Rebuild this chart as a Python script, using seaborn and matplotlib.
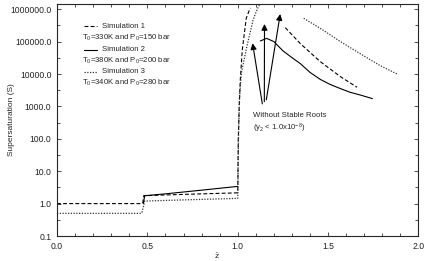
import numpy as np
import pandas as pd
import matplotlib
matplotlib.use("Agg")
import matplotlib.pyplot as plt
import matplotlib.ticker as mticker
import seaborn as sns

# ---- data (x = z, y = supersaturation S) ----
sim1_x = [0.0, 0.47, 0.475, 0.48, 0.6, 0.8, 1.0, 1.003, 1.008, 1.014, 1.025, 1.047, 1.069]
sim1_s = [1.0, 1.0, 1.1, 1.75, 1.85, 2.0, 2.15, 100, 1000, 6500, 55000, 525000, 1100000]
sim1b_x = [1.263, 1.346, 1.457, 1.568, 1.66]
sim1b_s = [270000, 87000, 24000, 8300, 3900]

sim2_x = [0.478, 0.485, 0.6, 0.8, 1.0]
sim2_s = [1.0, 1.75, 2.0, 2.6, 3.4]
sim2b_x = [1.125, 1.16, 1.20, 1.25, 1.30, 1.346, 1.40, 1.457, 1.51, 1.568, 1.62, 1.679, 1.745]
sim2b_s = [105000, 126000, 100000, 52000, 32000, 21000, 11200, 6800, 4800, 3550, 2750, 2240, 1740]

sim3_x = [0.0, 0.465, 0.47, 0.478, 0.485, 0.7, 1.0, 1.004, 1.01, 1.02, 1.05, 1.085, 1.106, 1.125]
sim3_s = [0.5, 0.5, 0.54, 0.8, 1.2, 1.3, 1.45, 100, 2000, 10700, 69000, 470000, 950000, 1600000]
sim3b_x = [1.365, 1.457, 1.568, 1.679, 1.789, 1.882]
sim3b_s = [525000, 257000, 100000, 42000, 18000, 10000]

sim_names = ["Simulation 1", "Simulation 2", "Simulation 3"]
sim_conds = ["T$_0$=330K and P$_0$=150 bar",
             "T$_0$=380K and P$_0$=200 bar",
             "T$_0$=340K and P$_0$=280 bar"]

arrow_tails = [(1.136, 1200), (1.147, 1400), (1.158, 1600)]
arrow_heads = [(1.082, 89000), (1.148, 350000), (1.235, 710000)]

sns.set_style("ticks")
plt.rcParams['font.family'] = ['Liberation Sans', 'DejaVu Sans']
plt.rcParams['mathtext.default'] = 'regular'
plt.rcParams['font.size'] = 6

fig = plt.figure(figsize=(4.28, 2.61), dpi=100)
ax = fig.add_axes([57 / 428, 25 / 261, 361.5 / 428, 232 / 261])

styles = [dict(ls=(0, (3.5, 2)), lw=0.8, c="black"),
          dict(ls="-", lw=0.8, c="black"),
          dict(ls=(0, (1, 1.2)), lw=0.9, c="#333333")]
segments = [[(sim1_x, sim1_s), (sim1b_x, sim1b_s)],
            [(sim2_x, sim2_s), (sim2b_x, sim2b_s)],
            [(sim3_x, sim3_s), (sim3b_x, sim3b_s)]]

for segs, st in zip(segments, styles):
    for xs, ss in segs:
        df = pd.DataFrame({"z": xs, "S": ss})
        sns.lineplot(data=df, x="z", y="S", sort=False, estimator=None,
                     color=st["c"], linestyle=st["ls"], linewidth=st["lw"], ax=ax)

ax.set_yscale("log")
ax.set_xlim(0, 2.0)
ax.set_ylim(0.1, 1.45e6)
ax.xaxis.set_major_locator(mticker.MultipleLocator(0.5))
ax.xaxis.set_minor_locator(mticker.MultipleLocator(0.1))
ax.xaxis.set_major_formatter(mticker.FormatStrFormatter("%.1f"))
ax.yaxis.set_major_locator(mticker.FixedLocator([10.0 ** k for k in range(-1, 7)]))
ax.yaxis.set_minor_locator(mticker.FixedLocator([10 ** (k + 0.5) for k in range(-1, 6)]))
ax.yaxis.set_major_formatter(mticker.FuncFormatter(lambda v, p: "%.1f" % v))
ax.yaxis.set_minor_formatter(mticker.NullFormatter())
ax.tick_params(which="both", direction="in", top=True, right=True, width=0.6,
               labelsize=6.2, pad=4, color="#333333", labelcolor="#222222")
ax.tick_params(which="major", length=3)
ax.tick_params(which="minor", length=2)
for sp in ax.spines.values():
    sp.set_linewidth(0.8)
ax.xaxis.get_offset_text().set_visible(False)
ax.yaxis.get_offset_text().set_visible(False)

ax.set_ylabel("Supersaturation (S)", fontsize=6)
ax.yaxis.set_label_coords(-0.115, 0.5)
ax.set_xlabel(r"$\bar{z}$", fontsize=6)
ax.xaxis.set_label_coords(0.443, -0.065)
ax.xaxis.label.set_va("top")

# legend drawn by hand: handle + name, then the conditions line below
leg_rows = [0.905, 0.802, 0.708]
cond_rows = [0.852, 0.756, 0.661]
for i in range(3):
    ax.plot([0.0747, 0.1107], [leg_rows[i], leg_rows[i]], transform=ax.transAxes,
            color=styles[i]["c"], linestyle=styles[i]["ls"], linewidth=styles[i]["lw"])
    ax.text(0.1245, leg_rows[i], sim_names[i], transform=ax.transAxes,
            va="center", ha="left", fontsize=5.6)
    ax.text(0.070, cond_rows[i], sim_conds[i], transform=ax.transAxes,
            va="center", ha="left", fontsize=5.6)

for tail, head in zip(arrow_tails, arrow_heads):
    ax.annotate("", xy=head, xytext=tail,
                arrowprops=dict(arrowstyle="-|>", color="black", lw=0.8,
                                mutation_scale=9, shrinkA=0, shrinkB=0))

ax.text(1.086, 515, "Without Stable Roots", ha="left", va="center", fontsize=5.6)
ax.text(1.086, 210, "(y$_2$ < 1.0x10$^{-8}$)", ha="left", va="center", fontsize=5.6)

fig.savefig("out.png", dpi=100)
